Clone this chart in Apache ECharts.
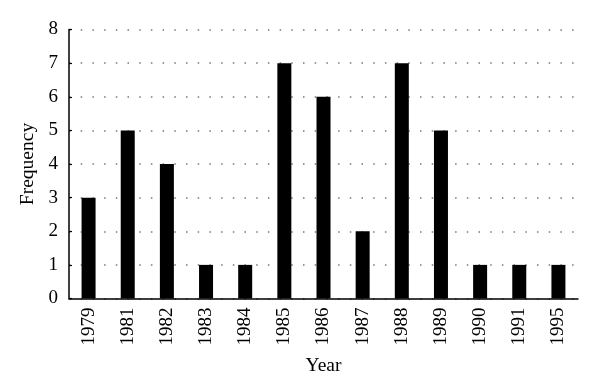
<!DOCTYPE html>
<html><head><meta charset="utf-8">
<script src="https://cdn.jsdelivr.net/npm/echarts@6/dist/echarts.min.js"></script>
<style>html,body{margin:0;padding:0;background:#fff}#c{width:600px;height:392px}</style>
</head><body><div id="c"></div>
<script>
const years = ['1979','1981','1982','1983','1984','1985','1986','1987','1988','1989','1990','1991','1995'];
const frequency = [3,5,4,1,1,7,6,2,7,5,1,1,1];
const yTicks = [0,1,2,3,4,5,6,7,8];
const font = '"Liberation Serif", "DejaVu Serif", serif';
const chart = echarts.init(document.getElementById('c'), null, {renderer:'canvas'});
chart.setOption({
  animation:false,
  backgroundColor:'#fff',
  grid:{left:69,right:22,top:29.5,bottom:93.5,containLabel:false},
  xAxis:{
    type:'category', data:years,
    name:'Year', nameLocation:'middle', nameGap:57,
    nameTextStyle:{fontFamily:font,fontSize:19.5,color:'#000'},
    axisLine:{lineStyle:{color:'#000',width:1.5}},
    axisTick:{show:false},
    axisLabel:{rotate:90,margin:9,fontFamily:font,fontSize:19,color:'#000'}
  },
  yAxis:{
    type:'value', min:yTicks[0], max:yTicks[yTicks.length-1], interval:1,
    name:'Frequency', nameLocation:'middle', nameGap:30,
    nameTextStyle:{fontFamily:font,fontSize:19.5,color:'#000'},
    axisLine:{show:true,lineStyle:{color:'#000',width:1.5}},
    axisTick:{show:true,inside:true,length:3,lineStyle:{color:'#000',width:1.2}},
    axisLabel:{margin:11,fontFamily:font,fontSize:19,color:'#000'},
    splitLine:{show:true,lineStyle:{color:'#777',width:1.5,type:[1.5,10.2]}}
  },
  series:[{type:'bar',data:frequency,barWidth:14,itemStyle:{color:'#000'}}]
});
</script></body></html>
